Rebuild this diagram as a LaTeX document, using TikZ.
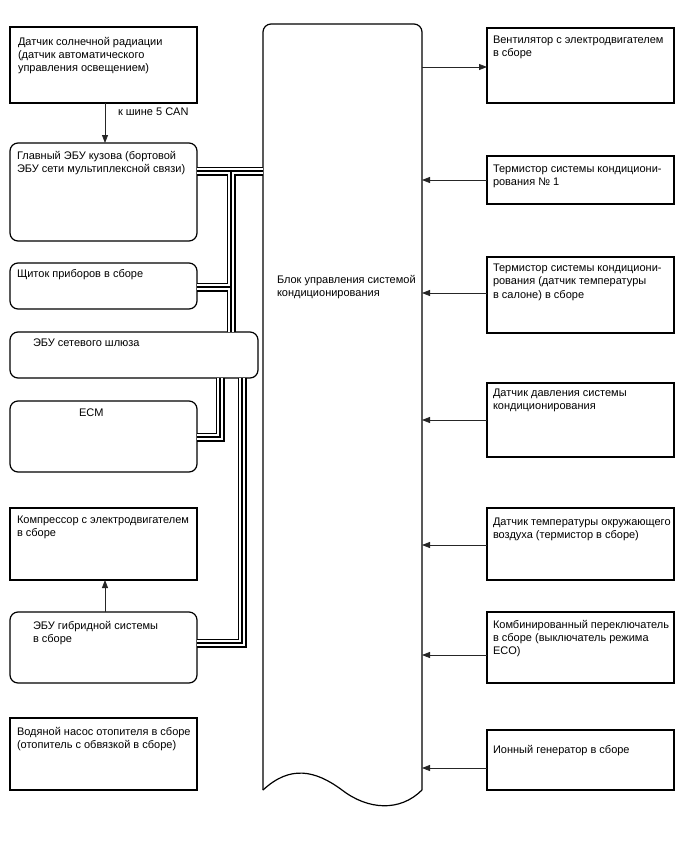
\documentclass[tikz,border=0pt]{standalone}
\usepackage{fontspec}
\setmainfont{Liberation Sans}
\usetikzlibrary{arrows.meta}
\tikzset{
  box/.style={draw, line width=1.2pt, inner sep=0pt, outer sep=0pt, anchor=north west},
  rbox/.style={box, rounded corners=8pt},
  txt/.style={anchor=north west, inner sep=0pt, outer sep=0pt, align=left, font=\fontsize{11}{13.3}\selectfont},
  arr/.style={line width=0.8pt, draw=black!85, -{Triangle[length=8pt,width=6pt]}},
  busA/.style={line width=9pt, draw=black},
  busB/.style={line width=5.6pt, draw=white},
  busC/.style={line width=1.2pt, draw=black},
}
\newcommand\mybuspaths[1]{%
  \draw[#1] (main.east |- 0,171) -- (blk.west |- 0,171);
  \draw[#1] (231,171) -- (gw.north -| 231,0);
  \draw[#1] (231,287) -- (meter.east |- 0,287);
  \draw[#1] (gw.south -| 220,0) -- (220,437) -- (ecm.east |- 0,437);
  \draw[#1] (gw.south -| 242,0) -- (242,643) -- (hyb.east |- 0,643);
}
\begin{document}
\begin{tikzpicture}[x=1pt,y=-1pt]
\useasboundingbox (0,0) rectangle (688,852);
% central block
\node[minimum width=159pt, minimum height=766pt, inner sep=0pt, outer sep=0pt, anchor=north west] (blk) at (263,24) {};
\draw[line width=1.2pt, rounded corners=8pt] (blk.south west) -- (blk.north west) -- (blk.north east) -- (blk.south east);
\draw[line width=1.2pt] (blk.south east) .. controls (400,812) and (368,810) .. (342,790)
   .. controls (315,770) and (290,765) .. (blk.south west);
\node[txt] (blktxt) at (277,275) {Блок управления системой\\кондиционирования};

% left boxes
\node[box, minimum width=187pt, minimum height=76pt] (sun) at (10,27) {};
\node[txt] (suntxt) at (18,37) {Датчик солнечной радиации\\(датчик автоматического\\управления освещением)};
\node[rbox, minimum width=187pt, minimum height=98pt] (main) at (10,143) {};
\node[txt] (maintxt) at (17,151) {Главный ЭБУ кузова (бортовой\\ЭБУ сети мультиплексной связи)};
\node[rbox, minimum width=187pt, minimum height=46pt] (meter) at (10,263) {};
\node[txt] (metertxt) at (17,269) {Щиток приборов в сборе};
\node[rbox, minimum width=248pt, minimum height=46pt] (gw) at (10,332) {};
\node[txt] (gwtxt) at (33,339) {ЭБУ сетевого шлюза};
\node[rbox, minimum width=187pt, minimum height=71pt] (ecm) at (10,401) {};
\node[txt] (ecmtxt) at (79,409) {ECM};
\node[box, minimum width=187pt, minimum height=72pt] (comp) at (10,508) {};
\node[txt] (comptxt) at (17,516) {Компрессор с электродвигателем\\в сборе};
\node[rbox, minimum width=187pt, minimum height=71pt] (hyb) at (10,612) {};
\node[txt] (hybtxt) at (33,621) {ЭБУ гибридной системы\\в сборе};
\node[box, minimum width=187pt, minimum height=72pt] (pump) at (10,718) {};
\node[txt] (pumptxt) at (17,727) {Водяной насос отопителя в сборе\\(отопитель с обвязкой в сборе)};

% right boxes
\node[box, minimum width=187pt, minimum height=75pt] (r1) at (487,28) {};
\node[txt] (r1txt) at (493,36) {Вентилятор с электродвигателем\\в сборе};
\node[box, minimum width=187pt, minimum height=48pt] (r2) at (487,156) {};
\node[txt] (r2txt) at (493,165) {Термистор системы кондициони-\\рования № 1};
\node[box, minimum width=187pt, minimum height=76pt] (r3) at (487,257) {};
\node[txt] (r3txt) at (493,264) {Термистор системы кондициони-\\рования (датчик температуры\\в салоне) в сборе};
\node[box, minimum width=187pt, minimum height=74pt] (r4) at (487,383) {};
\node[txt] (r4txt) at (493,389) {Датчик давления системы\\кондиционирования};
\node[box, minimum width=187pt, minimum height=72pt] (r5) at (487,508) {};
\node[txt] (r5txt) at (493,518) {Датчик температуры окружающего\\воздуха (термистор в сборе)};
\node[box, minimum width=187pt, minimum height=71pt] (r6) at (487,612) {};
\node[txt] (r6txt) at (493,620) {Комбинированный переключатель\\в сборе (выключатель режима\\ECO)};
\node[box, minimum width=187pt, minimum height=60pt] (r7) at (487,730) {};
\node[txt] (r7txt) at (493,745) {Ионный генератор в сборе};

% arrows
\draw[arr] (sun.south -| 105,0) -- (main.north -| 105,0);
\node[txt] (can) at (118,108) {к шине 5 CAN};
\draw[arr] (hyb.north -| 105,0) -- (comp.south -| 105,0);
\draw[arr] (blk.east |- 0,67) -- (r1.west |- 0,67);
\draw[arr] (r2.west |- 0,180) -- (blk.east |- 0,180);
\draw[arr] (r3.west |- 0,293) -- (blk.east |- 0,293);
\draw[arr] (r4.west |- 0,420) -- (blk.east |- 0,420);
\draw[arr] (r5.west |- 0,545) -- (blk.east |- 0,545);
\draw[arr] (r6.west |- 0,655) -- (blk.east |- 0,655);
\draw[arr] (r7.west |- 0,768) -- (blk.east |- 0,768);

% buses
\mybuspaths{busA}
\mybuspaths{busB}
\mybuspaths{busC}
\end{tikzpicture}
\end{document}
